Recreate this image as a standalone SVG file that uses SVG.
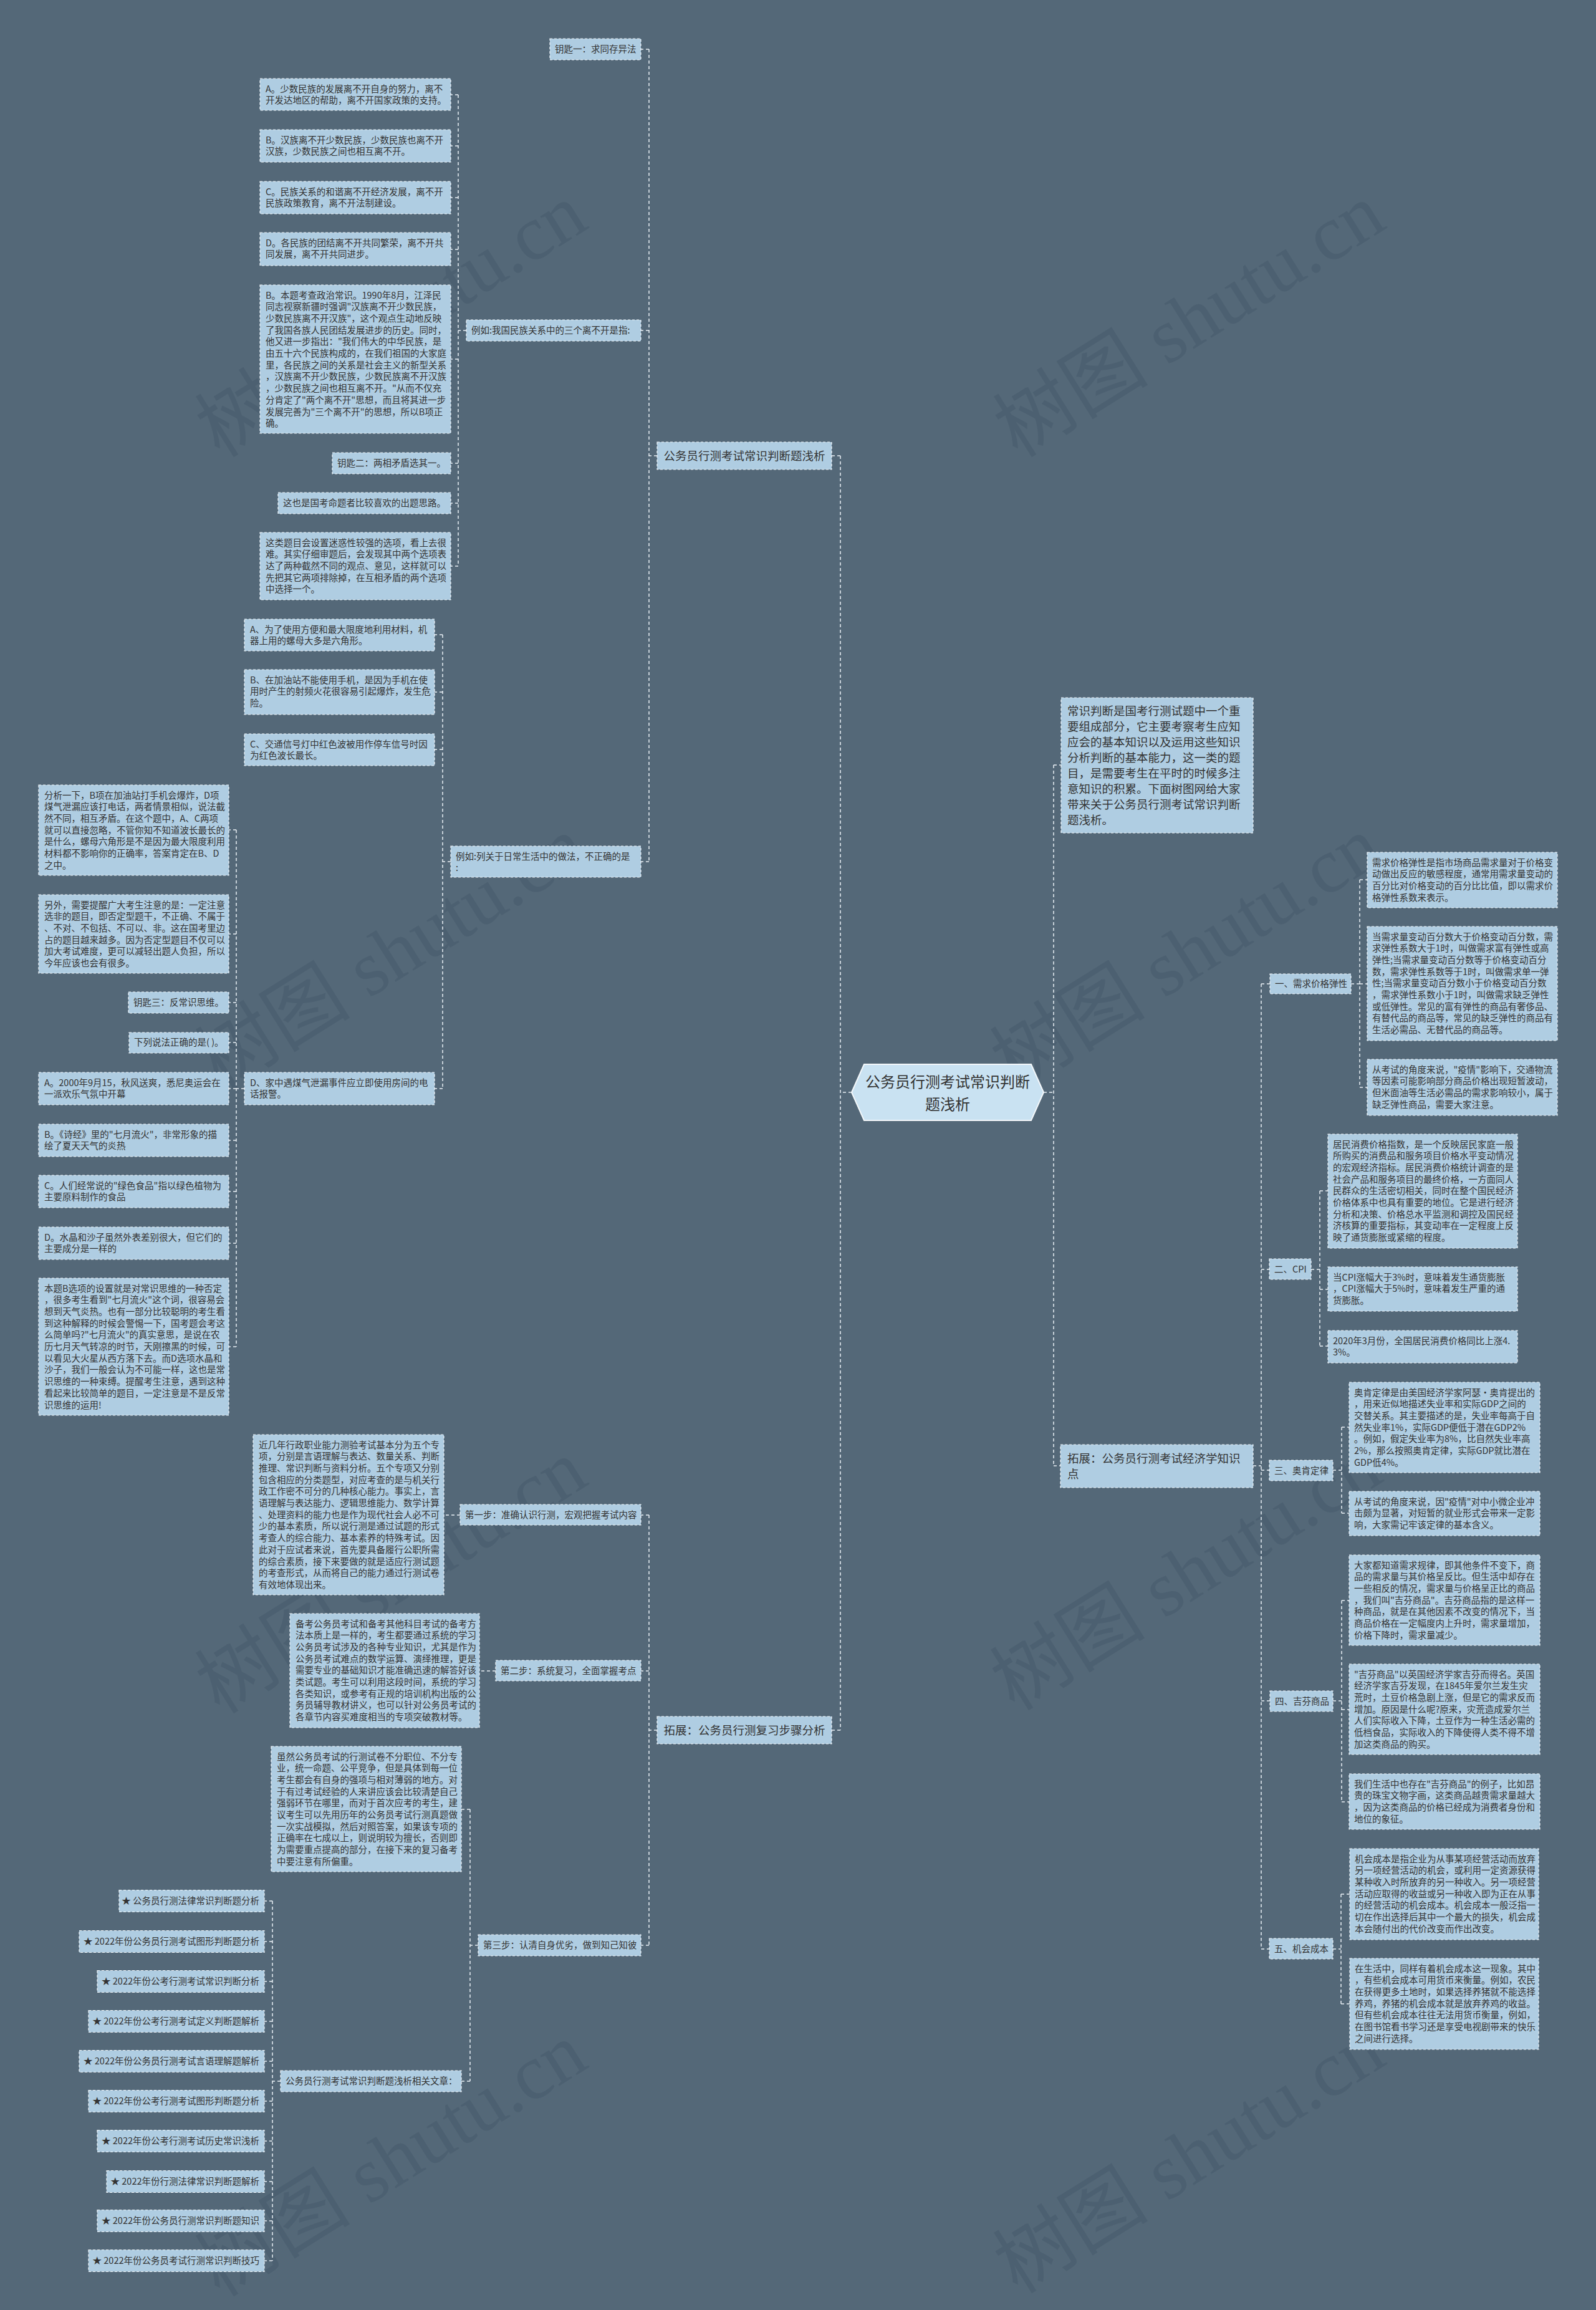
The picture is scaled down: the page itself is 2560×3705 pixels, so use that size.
<svg xmlns="http://www.w3.org/2000/svg" width="2560" height="3705" viewBox="0 0 2560 3705">
<style>
.n{fill:#afcde2;stroke:#eef4f8;stroke-width:1.2;stroke-dasharray:4 3}
.t{font-family:"Noto Sans CJK SC","Microsoft YaHei",sans-serif;font-size:14.5px;fill:#333}
.t1{font-family:"Noto Sans CJK SC","Microsoft YaHei",sans-serif;font-size:18.5px;fill:#333}
.c{fill:none;stroke:#e9f0f5;stroke-width:1.5;stroke-dasharray:5 4}
.wm{font-family:"Liberation Serif","Noto Sans CJK SC",serif;font-size:125px;fill:#3f5263;fill-opacity:0.35}
</style>
<rect x="0" y="0" width="2560" height="3705" fill="#546878"/>
<g id="watermarks">
<text class="wm" text-anchor="middle" transform="translate(650,550) rotate(-32)">树图 shutu.cn</text>
<text class="wm" text-anchor="middle" transform="translate(1930,550) rotate(-32)">树图 shutu.cn</text>
<text class="wm" text-anchor="middle" transform="translate(650,1565) rotate(-32)">树图 shutu.cn</text>
<text class="wm" text-anchor="middle" transform="translate(1925,1565) rotate(-32)">树图 shutu.cn</text>
<text class="wm" text-anchor="middle" transform="translate(650,2565) rotate(-32)">树图 shutu.cn</text>
<text class="wm" text-anchor="middle" transform="translate(1925,2560) rotate(-32)">树图 shutu.cn</text>
<text class="wm" text-anchor="middle" transform="translate(650,3500) rotate(-32)">树图 shutu.cn</text>
<text class="wm" text-anchor="middle" transform="translate(1930,3495) rotate(-32)">树图 shutu.cn</text>
</g>
<g id="connectors">
<path class="c" d="M1366,1752H1348M1348,731V2775M1348,731H1334M1348,2775H1334"/>
<path class="c" d="M1054,731H1041M1041,79V1382M1041,79H1028M1041,530H1028M1041,1382H1028"/>
<path class="c" d="M748,530H735M735,152V908M735,152H723M735,234H723M735,317H723M735,400H723M735,576H723M735,743H723M735,807H723M735,908H723"/>
<path class="c" d="M723,1382H710M710,1018V1746M710,1018H697M710,1110H697M710,1202H697M710,1746H697"/>
<path class="c" d="M392,1746H379M379,1331V2160M379,1331H367M379,1498H367M379,1608H367M379,1672H367M379,1746H367M379,1829H367M379,1911H367M379,1994H367M379,2160H367"/>
<path class="c" d="M1054,2775H1041M1041,2430V3120M1041,2430H1028M1041,2680H1028M1041,3120H1028"/>
<path class="c" d="M738,2430H712M795,2680H769"/>
<path class="c" d="M767,3120H754M754,2902V3338M754,2902H740M754,3338H740"/>
<path class="c" d="M450,3338H437M437,3049V3626M437,3049H424M437,3114H424M437,3178H424M437,3242H424M437,3306H424M437,3370H424M437,3434H424M437,3499H424M437,3562H424M437,3626H424"/>
<path class="c" d="M1674,1752H1690M1690,1227V2351M1690,1227H1702M1690,2351H1701"/>
<path class="c" d="M2010,2351H2023M2023,1578V3126M2023,1578H2037M2023,2036H2036M2023,2358H2036M2023,2728H2037M2023,3126H2036"/>
<path class="c" d="M2167,1578H2181M2181,1411V1744M2181,1411H2193M2181,1578H2193M2181,1744H2193"/>
<path class="c" d="M2103,2036H2117M2117,1910V2159M2117,1910H2130M2117,2068H2130M2117,2159H2130"/>
<path class="c" d="M2138,2358H2152M2152,2289V2427M2152,2289H2164M2152,2427H2164"/>
<path class="c" d="M2138,2728H2152M2152,2567V2890M2152,2567H2164M2152,2742H2164M2152,2890H2164"/>
<path class="c" d="M2138,3126H2151M2151,3038V3214M2151,3038H2165M2151,3214H2165"/>
</g>
<g id="root">
<polygon points="1366,1752 1386,1707 1654,1707 1674,1752 1654,1797 1386,1797" fill="#c9e2f2" stroke="#f4f8fb" stroke-width="2"/>
<text class="t1" style="font-size:24px" text-anchor="middle"><tspan x="1520" y="1744">公务员行测考试常识判断</tspan><tspan x="1520" y="1780">题浅析</tspan></text>
</g>
<g id="l1a"><rect class="n" x="1054" y="709" width="280" height="44"/><text class="t1" x="1194" y="737.5" text-anchor="middle">公务员行测考试常识判断题浅析</text></g>
<g id="key1"><rect class="n" x="882" y="62" width="146" height="34"/><text class="t" x="890" y="83.5">钥匙一：求同存异法</text></g>
<g id="ex1"><rect class="n" x="748" y="513" width="280" height="34"/><text class="t" x="756" y="534.5">例如:我国民族关系中的三个离不开是指:</text></g>
<g id="ex1a"><rect class="n" x="417" y="126" width="306" height="51"/><text class="t"><tspan x="426" y="147.5">A。少数民族的发展离不开自身的努力，离不</tspan><tspan x="426" dy="18.7">开发达地区的帮助，离不开国家政策的支持。</tspan></text></g>
<g id="ex1b"><rect class="n" x="417" y="208" width="306" height="52"/><text class="t"><tspan x="426" y="229.5">B。汉族离不开少数民族，少数民族也离不开</tspan><tspan x="426" dy="18.7">汉族，少数民族之间也相互离不开。</tspan></text></g>
<g id="ex1c"><rect class="n" x="417" y="291" width="306" height="52"/><text class="t"><tspan x="426" y="312.5">C。民族关系的和谐离不开经济发展，离不开</tspan><tspan x="426" dy="18.7">民族政策教育，离不开法制建设。</tspan></text></g>
<g id="ex1d"><rect class="n" x="417" y="373" width="306" height="53"/><text class="t"><tspan x="426" y="394.5">D。各民族的团结离不开共同繁荣，离不开共</tspan><tspan x="426" dy="18.7">同发展，离不开共同进步。</tspan></text></g>
<g id="ex1ans"><rect class="n" x="417" y="457" width="306" height="238"/><text class="t"><tspan x="426" y="478.5">B。本题考查政治常识。1990年8月，江泽民</tspan><tspan x="426" dy="18.7">同志视察新疆时强调"汉族离不开少数民族，</tspan><tspan x="426" dy="18.7">少数民族离不开汉族"，这个观点生动地反映</tspan><tspan x="426" dy="18.7">了我国各族人民团结发展进步的历史。同时，</tspan><tspan x="426" dy="18.7">他又进一步指出："我们伟大的中华民族，是</tspan><tspan x="426" dy="18.7">由五十六个民族构成的，在我们祖国的大家庭</tspan><tspan x="426" dy="18.7">里，各民族之间的关系是社会主义的新型关系</tspan><tspan x="426" dy="18.7">，汉族离不开少数民族，少数民族离不开汉族</tspan><tspan x="426" dy="18.7">，少数民族之间也相互离不开。"从而不仅充</tspan><tspan x="426" dy="18.7">分肯定了"两个离不开"思想，而且将其进一步</tspan><tspan x="426" dy="18.7">发展完善为"三个离不开"的思想，所以B项正</tspan><tspan x="426" dy="18.7">确。</tspan></text></g>
<g id="key2"><rect class="n" x="533" y="726" width="190" height="34"/><text class="t" x="541" y="747.5">钥匙二：两相矛盾选其一。</text></g>
<g id="note1"><rect class="n" x="446" y="790" width="277" height="34"/><text class="t" x="454" y="811.5">这也是国考命题者比较喜欢的出题思路。</text></g>
<g id="note2"><rect class="n" x="417" y="854" width="306" height="108"/><text class="t"><tspan x="426" y="875.5">这类题目会设置迷惑性较强的选项，看上去很</tspan><tspan x="426" dy="18.7">难。其实仔细审题后，会发现其中两个选项表</tspan><tspan x="426" dy="18.7">达了两种截然不同的观点、意见，这样就可以</tspan><tspan x="426" dy="18.7">先把其它两项排除掉，在互相矛盾的两个选项</tspan><tspan x="426" dy="18.7">中选择一个。</tspan></text></g>
<g id="ex2"><rect class="n" x="723" y="1357" width="305" height="50"/><text class="t"><tspan x="731" y="1378.5">例如:列关于日常生活中的做法，不正确的是</tspan><tspan x="731" dy="18.7">:</tspan></text></g>
<g id="ex2a"><rect class="n" x="392" y="993" width="305" height="51"/><text class="t"><tspan x="401" y="1014.5">A、为了使用方便和最大限度地利用材料，机</tspan><tspan x="401" dy="18.7">器上用的螺母大多是六角形。</tspan></text></g>
<g id="ex2b"><rect class="n" x="392" y="1074" width="305" height="72"/><text class="t"><tspan x="401" y="1095.5">B、在加油站不能使用手机，是因为手机在使</tspan><tspan x="401" dy="18.7">用时产生的射频火花很容易引起爆炸，发生危</tspan><tspan x="401" dy="18.7">险。</tspan></text></g>
<g id="ex2c"><rect class="n" x="392" y="1177" width="305" height="51"/><text class="t"><tspan x="401" y="1198.5">C、交通信号灯中红色波被用作停车信号时因</tspan><tspan x="401" dy="18.7">为红色波长最长。</tspan></text></g>
<g id="ex2d"><rect class="n" x="392" y="1720" width="305" height="52"/><text class="t"><tspan x="401" y="1741.5">D、家中遇煤气泄漏事件应立即使用房间的电</tspan><tspan x="401" dy="18.7">话报警。</tspan></text></g>
<g id="ana"><rect class="n" x="62" y="1259" width="305" height="145"/><text class="t"><tspan x="71" y="1280.5">分析一下，B项在加油站打手机会爆炸，D项</tspan><tspan x="71" dy="18.7">煤气泄漏应该打电话，两者情景相似，说法截</tspan><tspan x="71" dy="18.7">然不同，相互矛盾。在这个题中，A、C两项</tspan><tspan x="71" dy="18.7">就可以直接忽略，不管你知不知道波长最长的</tspan><tspan x="71" dy="18.7">是什么，螺母六角形是不是因为最大限度利用</tspan><tspan x="71" dy="18.7">材料都不影响你的正确率，答案肯定在B、D</tspan><tspan x="71" dy="18.7">之中。</tspan></text></g>
<g id="also"><rect class="n" x="62" y="1435" width="305" height="126"/><text class="t"><tspan x="71" y="1456.5">另外，需要提醒广大考生注意的是：一定注意</tspan><tspan x="71" dy="18.7">选非的题目，即否定型题干，不正确、不属于</tspan><tspan x="71" dy="18.7">、不对、不包括、不可以、非。这在国考里边</tspan><tspan x="71" dy="18.7">占的题目越来越多。因为否定型题目不仅可以</tspan><tspan x="71" dy="18.7">加大考试难度，更可以减轻出题人负担，所以</tspan><tspan x="71" dy="18.7">今年应该也会有很多。</tspan></text></g>
<g id="key3"><rect class="n" x="206" y="1591" width="161" height="34"/><text class="t" x="214" y="1612.5">钥匙三：反常识思维。</text></g>
<g id="q3"><rect class="n" x="207" y="1656" width="160" height="33"/><text class="t" x="215" y="1677">下列说法正确的是( )。</text></g>
<g id="q3a"><rect class="n" x="62" y="1720" width="305" height="52"/><text class="t"><tspan x="71" y="1741.5">A。2000年9月15，秋风送爽，悉尼奥运会在</tspan><tspan x="71" dy="18.7">一派欢乐气氛中开幕</tspan></text></g>
<g id="q3b"><rect class="n" x="62" y="1803" width="305" height="52"/><text class="t"><tspan x="71" y="1824.5">B。《诗经》里的"七月流火"，非常形象的描</tspan><tspan x="71" dy="18.7">绘了夏天天气的炎热</tspan></text></g>
<g id="q3c"><rect class="n" x="62" y="1885" width="305" height="52"/><text class="t"><tspan x="71" y="1906.5">C。人们经常说的"绿色食品"指以绿色植物为</tspan><tspan x="71" dy="18.7">主要原料制作的食品</tspan></text></g>
<g id="q3d"><rect class="n" x="62" y="1968" width="305" height="52"/><text class="t"><tspan x="71" y="1989.5">D。水晶和沙子虽然外表差别很大，但它们的</tspan><tspan x="71" dy="18.7">主要成分是一样的</tspan></text></g>
<g id="q3ans"><rect class="n" x="62" y="2050" width="305" height="220"/><text class="t"><tspan x="71" y="2071.5">本题B选项的设置就是对常识思维的一种否定</tspan><tspan x="71" dy="18.7">，很多考生看到"七月流火"这个词，很容易会</tspan><tspan x="71" dy="18.7">想到天气炎热。也有一部分比较聪明的考生看</tspan><tspan x="71" dy="18.7">到这种解释的时候会警惕一下，国考题会考这</tspan><tspan x="71" dy="18.7">么简单吗?"七月流火"的真实意思，是说在农</tspan><tspan x="71" dy="18.7">历七月天气转凉的时节，天刚擦黑的时候，可</tspan><tspan x="71" dy="18.7">以看见大火星从西方落下去。而D选项水晶和</tspan><tspan x="71" dy="18.7">沙子，我们一般会认为不可能一样，这也是常</tspan><tspan x="71" dy="18.7">识思维的一种束缚。提醒考生注意，遇到这种</tspan><tspan x="71" dy="18.7">看起来比较简单的题目，一定注意是不是反常</tspan><tspan x="71" dy="18.7">识思维的运用!</tspan></text></g>
<g id="l1b"><rect class="n" x="1054" y="2753" width="280" height="44"/><text class="t1" x="1194" y="2781.5" text-anchor="middle">拓展：公务员行测复习步骤分析</text></g>
<g id="step1"><rect class="n" x="738" y="2413" width="290" height="33"/><text class="t" x="746" y="2434.5">第一步：准确认识行测，宏观把握考试内容</text></g>
<g id="step1t"><rect class="n" x="406" y="2301" width="306" height="257"/><text class="t"><tspan x="415" y="2322.5">近几年行政职业能力测验考试基本分为五个专</tspan><tspan x="415" dy="18.7">项，分别是言语理解与表达、数量关系、判断</tspan><tspan x="415" dy="18.7">推理、常识判断与资料分析。五个专项又分别</tspan><tspan x="415" dy="18.7">包含相应的分类题型，对应考查的是与机关行</tspan><tspan x="415" dy="18.7">政工作密不可分的几种核心能力。事实上，言</tspan><tspan x="415" dy="18.7">语理解与表达能力、逻辑思维能力、数学计算</tspan><tspan x="415" dy="18.7">、处理资料的能力也是作为现代社会人必不可</tspan><tspan x="415" dy="18.7">少的基本素质，所以说行测是通过试题的形式</tspan><tspan x="415" dy="18.7">考查人的综合能力、基本素养的特殊考试。因</tspan><tspan x="415" dy="18.7">此对于应试者来说，首先要具备履行公职所需</tspan><tspan x="415" dy="18.7">的综合素质，接下来要做的就是适应行测试题</tspan><tspan x="415" dy="18.7">的考查形式，从而将自己的能力通过行测试卷</tspan><tspan x="415" dy="18.7">有效地体现出来。</tspan></text></g>
<g id="step2"><rect class="n" x="795" y="2663" width="233" height="33"/><text class="t" x="803" y="2684.5">第二步：系统复习，全面掌握考点</text></g>
<g id="step2t"><rect class="n" x="465" y="2588" width="304" height="183"/><text class="t"><tspan x="474" y="2609.5">备考公务员考试和备考其他科目考试的备考方</tspan><tspan x="474" dy="18.7">法本质上是一样的，考生都要通过系统的学习</tspan><tspan x="474" dy="18.7">公务员考试涉及的各种专业知识，尤其是作为</tspan><tspan x="474" dy="18.7">公务员考试难点的数学运算、演绎推理，更是</tspan><tspan x="474" dy="18.7">需要专业的基础知识才能准确迅速的解答好该</tspan><tspan x="474" dy="18.7">类试题。考生可以利用这段时间，系统的学习</tspan><tspan x="474" dy="18.7">各类知识，或参考有正规的培训机构出版的公</tspan><tspan x="474" dy="18.7">务员辅导教材讲义，也可以针对公务员考试的</tspan><tspan x="474" dy="18.7">各章节内容买难度相当的专项突破教材等。</tspan></text></g>
<g id="step3"><rect class="n" x="767" y="3103" width="261" height="34"/><text class="t" x="775" y="3124.5">第三步：认清自身优劣，做到知己知彼</text></g>
<g id="step3t"><rect class="n" x="435" y="2801" width="305" height="201"/><text class="t"><tspan x="444" y="2822.5">虽然公务员考试的行测试卷不分职位、不分专</tspan><tspan x="444" dy="18.7">业，统一命题、公平竞争，但是具体到每一位</tspan><tspan x="444" dy="18.7">考生都会有自身的强项与相对薄弱的地方。对</tspan><tspan x="444" dy="18.7">于有过考试经验的人来讲应该会比较清楚自己</tspan><tspan x="444" dy="18.7">强弱环节在哪里，而对于首次应考的考生，建</tspan><tspan x="444" dy="18.7">议考生可以先用历年的公务员考试行测真题做</tspan><tspan x="444" dy="18.7">一次实战模拟，然后对照答案，如果该专项的</tspan><tspan x="444" dy="18.7">正确率在七成以上，则说明较为擅长，否则即</tspan><tspan x="444" dy="18.7">为需要重点提高的部分，在接下来的复习备考</tspan><tspan x="444" dy="18.7">中要注意有所偏重。</tspan></text></g>
<g id="rel"><rect class="n" x="450" y="3321" width="290" height="34"/><text class="t" x="458" y="3342.5">公务员行测考试常识判断题浅析相关文章：</text></g>
<g id="rel1"><rect class="n" x="191" y="3031.5" width="233" height="35"/><text class="t" x="416" y="3054" text-anchor="end">★ 公务员行测法律常识判断题分析</text></g>
<g id="rel2"><rect class="n" x="127" y="3096.5" width="297" height="35"/><text class="t" x="416" y="3119" text-anchor="end">★ 2022年份公务员行测考试图形判断题分析</text></g>
<g id="rel3"><rect class="n" x="156" y="3160.5" width="268" height="35"/><text class="t" x="416" y="3183" text-anchor="end">★ 2022年份公考行测考试常识判断分析</text></g>
<g id="rel4"><rect class="n" x="142" y="3224.5" width="282" height="35"/><text class="t" x="416" y="3247" text-anchor="end">★ 2022年份公考行测考试定义判断题解析</text></g>
<g id="rel5"><rect class="n" x="127" y="3288.5" width="297" height="35"/><text class="t" x="416" y="3311" text-anchor="end">★ 2022年份公务员行测考试言语理解题解析</text></g>
<g id="rel6"><rect class="n" x="142" y="3352.5" width="282" height="35"/><text class="t" x="416" y="3375" text-anchor="end">★ 2022年份公考行测考试图形判断题分析</text></g>
<g id="rel7"><rect class="n" x="156" y="3416.5" width="268" height="35"/><text class="t" x="416" y="3439" text-anchor="end">★ 2022年份公考行测考试历史常识浅析</text></g>
<g id="rel8"><rect class="n" x="171" y="3481.5" width="253" height="35"/><text class="t" x="416" y="3504" text-anchor="end">★ 2022年份行测法律常识判断题解析</text></g>
<g id="rel9"><rect class="n" x="156" y="3544.5" width="268" height="35"/><text class="t" x="416" y="3567" text-anchor="end">★ 2022年份公务员行测常识判断题知识</text></g>
<g id="rel10"><rect class="n" x="142" y="3608.5" width="282" height="35"/><text class="t" x="416" y="3631" text-anchor="end">★ 2022年份公务员考试行测常识判断技巧</text></g>
<g id="intro"><rect class="n" x="1702" y="1119" width="308" height="217"/><text class="t1"><tspan x="1712" y="1146.5">常识判断是国考行测试题中一个重</tspan><tspan x="1712" dy="25">要组成部分，它主要考察考生应知</tspan><tspan x="1712" dy="25">应会的基本知识以及运用这些知识</tspan><tspan x="1712" dy="25">分析判断的基本能力，这一类的题</tspan><tspan x="1712" dy="25">目，是需要考生在平时的时候多注</tspan><tspan x="1712" dy="25">意知识的积累。下面树图网给大家</tspan><tspan x="1712" dy="25">带来关于公务员行测考试常识判断</tspan><tspan x="1712" dy="25">题浅析。</tspan></text></g>
<g id="l1c"><rect class="n" x="1701" y="2317" width="309" height="69"/><text class="t1"><tspan x="1712" y="2345.5">拓展：公务员行测考试经济学知识</tspan><tspan x="1712" dy="25">点</tspan></text></g>
<g id="e1"><rect class="n" x="2037" y="1562" width="130" height="32"/><text class="t" x="2045" y="1583">一、需求价格弹性</text></g>
<g id="e1a"><rect class="n" x="2193" y="1367" width="305" height="89"/><text class="t"><tspan x="2201" y="1388.5">需求价格弹性是指市场商品需求量对于价格变</tspan><tspan x="2201" dy="18.7">动做出反应的敏感程度，通常用需求量变动的</tspan><tspan x="2201" dy="18.7">百分比对价格变动的百分比比值，即以需求价</tspan><tspan x="2201" dy="18.7">格弹性系数来表示。</tspan></text></g>
<g id="e1b"><rect class="n" x="2193" y="1486" width="305" height="183"/><text class="t"><tspan x="2201" y="1507.5">当需求量变动百分数大于价格变动百分数，需</tspan><tspan x="2201" dy="18.7">求弹性系数大于1时，叫做需求富有弹性或高</tspan><tspan x="2201" dy="18.7">弹性;当需求量变动百分数等于价格变动百分</tspan><tspan x="2201" dy="18.7">数，需求弹性系数等于1时，叫做需求单一弹</tspan><tspan x="2201" dy="18.7">性;当需求量变动百分数小于价格变动百分数</tspan><tspan x="2201" dy="18.7">，需求弹性系数小于1时，叫做需求缺乏弹性</tspan><tspan x="2201" dy="18.7">或低弹性。常见的富有弹性的商品有奢侈品、</tspan><tspan x="2201" dy="18.7">有替代品的商品等，常见的缺乏弹性的商品有</tspan><tspan x="2201" dy="18.7">生活必需品、无替代品的商品等。</tspan></text></g>
<g id="e1c"><rect class="n" x="2193" y="1699" width="305" height="90"/><text class="t"><tspan x="2201" y="1720.5">从考试的角度来说，"疫情"影响下，交通物流</tspan><tspan x="2201" dy="18.7">等因素可能影响部分商品价格出现短暂波动，</tspan><tspan x="2201" dy="18.7">但米面油等生活必需品的需求影响较小，属于</tspan><tspan x="2201" dy="18.7">缺乏弹性商品，需要大家注意。</tspan></text></g>
<g id="e2"><rect class="n" x="2036" y="2019" width="67" height="33"/><text class="t" x="2044" y="2040.5">二、CPI</text></g>
<g id="e2a"><rect class="n" x="2130" y="1819" width="304" height="183"/><text class="t"><tspan x="2138" y="1840.5">居民消费价格指数，是一个反映居民家庭一般</tspan><tspan x="2138" dy="18.7">所购买的消费品和服务项目价格水平变动情况</tspan><tspan x="2138" dy="18.7">的宏观经济指标。居民消费价格统计调查的是</tspan><tspan x="2138" dy="18.7">社会产品和服务项目的最终价格，一方面同人</tspan><tspan x="2138" dy="18.7">民群众的生活密切相关，同时在整个国民经济</tspan><tspan x="2138" dy="18.7">价格体系中也具有重要的地位。它是进行经济</tspan><tspan x="2138" dy="18.7">分析和决策、价格总水平监测和调控及国民经</tspan><tspan x="2138" dy="18.7">济核算的重要指标，其变动率在一定程度上反</tspan><tspan x="2138" dy="18.7">映了通货膨胀或紧缩的程度。</tspan></text></g>
<g id="e2b"><rect class="n" x="2130" y="2032" width="304" height="71"/><text class="t"><tspan x="2138" y="2053.5">当CPI涨幅大于3%时，意味着发生通货膨胀</tspan><tspan x="2138" dy="18.7">，CPI涨幅大于5%时，意味着发生严重的通</tspan><tspan x="2138" dy="18.7">货膨胀。</tspan></text></g>
<g id="e2c"><rect class="n" x="2130" y="2134" width="304" height="52"/><text class="t"><tspan x="2138" y="2155.5">2020年3月份，全国居民消费价格同比上涨4.</tspan><tspan x="2138" dy="18.7">3%。</tspan></text></g>
<g id="e3"><rect class="n" x="2036" y="2342" width="102" height="33"/><text class="t" x="2044" y="2363.5">三、奥肯定律</text></g>
<g id="e3a"><rect class="n" x="2164" y="2217" width="306" height="145"/><text class="t"><tspan x="2172" y="2238.5">奥肯定律是由美国经济学家阿瑟·奥肯提出的</tspan><tspan x="2172" dy="18.7">，用来近似地描述失业率和实际GDP之间的</tspan><tspan x="2172" dy="18.7">交替关系。其主要描述的是，失业率每高于自</tspan><tspan x="2172" dy="18.7">然失业率1%，实际GDP便低于潜在GDP2%</tspan><tspan x="2172" dy="18.7">。例如，假定失业率为8%，比自然失业率高</tspan><tspan x="2172" dy="18.7">2%，那么按照奥肯定律，实际GDP就比潜在</tspan><tspan x="2172" dy="18.7">GDP低4%。</tspan></text></g>
<g id="e3b"><rect class="n" x="2164" y="2392" width="306" height="71"/><text class="t"><tspan x="2172" y="2413.5">从考试的角度来说，因"疫情"对中小微企业冲</tspan><tspan x="2172" dy="18.7">击颇为显著，对短暂的就业形式会带来一定影</tspan><tspan x="2172" dy="18.7">响，大家需记牢该定律的基本含义。</tspan></text></g>
<g id="e4"><rect class="n" x="2037" y="2712" width="101" height="33"/><text class="t" x="2045" y="2733.5">四、吉芬商品</text></g>
<g id="e4a"><rect class="n" x="2164" y="2494" width="306" height="145"/><text class="t"><tspan x="2172" y="2515.5">大家都知道需求规律，即其他条件不变下，商</tspan><tspan x="2172" dy="18.7">品的需求量与其价格呈反比。但生活中却存在</tspan><tspan x="2172" dy="18.7">一些相反的情况，需求量与价格呈正比的商品</tspan><tspan x="2172" dy="18.7">，我们叫"吉芬商品"。吉芬商品指的是这样一</tspan><tspan x="2172" dy="18.7">种商品，就是在其他因素不改变的情况下，当</tspan><tspan x="2172" dy="18.7">商品价格在一定幅度内上升时，需求量增加，</tspan><tspan x="2172" dy="18.7">价格下降时，需求量减少。</tspan></text></g>
<g id="e4b"><rect class="n" x="2164" y="2669" width="306" height="145"/><text class="t"><tspan x="2172" y="2690.5">"吉芬商品"以英国经济学家吉芬而得名。英国</tspan><tspan x="2172" dy="18.7">经济学家吉芬发现，在1845年爱尔兰发生灾</tspan><tspan x="2172" dy="18.7">荒时，土豆价格急剧上涨，但是它的需求反而</tspan><tspan x="2172" dy="18.7">增加。原因是什么呢?原来，灾荒造成爱尔兰</tspan><tspan x="2172" dy="18.7">人们实际收入下降，土豆作为一种生活必需的</tspan><tspan x="2172" dy="18.7">低档食品，实际收入的下降使得人类不得不增</tspan><tspan x="2172" dy="18.7">加这类商品的购买。</tspan></text></g>
<g id="e4c"><rect class="n" x="2164" y="2845" width="306" height="89"/><text class="t"><tspan x="2172" y="2866.5">我们生活中也存在"吉芬商品"的例子，比如昂</tspan><tspan x="2172" dy="18.7">贵的珠宝文物字画，这类商品越贵需求量越大</tspan><tspan x="2172" dy="18.7">，因为这类商品的价格已经成为消费者身份和</tspan><tspan x="2172" dy="18.7">地位的象征。</tspan></text></g>
<g id="e5"><rect class="n" x="2036" y="3109" width="102" height="33"/><text class="t" x="2044" y="3130.5">五、机会成本</text></g>
<g id="e5a"><rect class="n" x="2165" y="2965" width="303" height="146"/><text class="t"><tspan x="2173" y="2986.5">机会成本是指企业为从事某项经营活动而放弃</tspan><tspan x="2173" dy="18.7">另一项经营活动的机会，或利用一定资源获得</tspan><tspan x="2173" dy="18.7">某种收入时所放弃的另一种收入。另一项经营</tspan><tspan x="2173" dy="18.7">活动应取得的收益或另一种收入即为正在从事</tspan><tspan x="2173" dy="18.7">的经营活动的机会成本。机会成本一般泛指一</tspan><tspan x="2173" dy="18.7">切在作出选择后其中一个最大的损失，机会成</tspan><tspan x="2173" dy="18.7">本会随付出的代价改变而作出改变。</tspan></text></g>
<g id="e5b"><rect class="n" x="2165" y="3141" width="303" height="146"/><text class="t"><tspan x="2173" y="3162.5">在生活中，同样有着机会成本这一现象。其中</tspan><tspan x="2173" dy="18.7">，有些机会成本可用货币来衡量。例如，农民</tspan><tspan x="2173" dy="18.7">在获得更多土地时，如果选择养猪就不能选择</tspan><tspan x="2173" dy="18.7">养鸡，养猪的机会成本就是放弃养鸡的收益。</tspan><tspan x="2173" dy="18.7">但有些机会成本往往无法用货币衡量，例如，</tspan><tspan x="2173" dy="18.7">在图书馆看书学习还是享受电视剧带来的快乐</tspan><tspan x="2173" dy="18.7">之间进行选择。</tspan></text></g>
</svg>
